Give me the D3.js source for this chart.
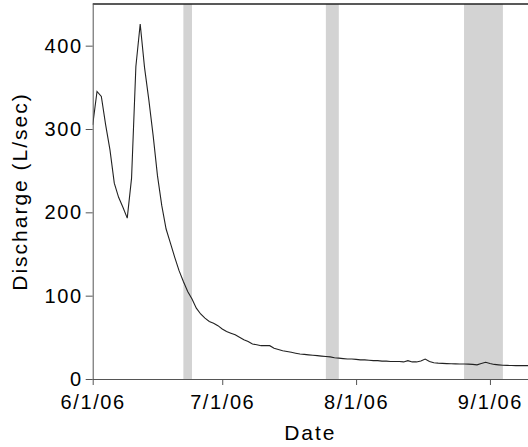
<!DOCTYPE html>
<html>
<head>
<meta charset="utf-8">
<script src="https://cdn.jsdelivr.net/npm/d3@7"></script>
<style>
  html, body { margin: 0; padding: 0; background: #fff; }
  svg { display: block; font-family: "Liberation Sans", Arial, sans-serif; }
</style>
</head>
<body>
<svg id="chart" width="528" height="447"></svg>
<script>
// ---- data ----
const startDate = "2006-06-01";
const discharge = [
  305, 345, 339, 305, 275, 235, 218, 206, 193, 241,
  375, 426, 374, 335, 292, 244, 208, 180, 163, 146,
  130, 117, 105, 96, 85, 78, 73, 69, 67, 64,
  60, 57, 55, 53, 50, 47, 45, 42, 41, 40,
  40, 40, 37, 35.5, 34, 33, 32, 31, 30, 29.5,
  29, 28.5, 28, 27.5, 27, 26.5, 25.5, 25, 24.5, 24,
  24, 23.5, 23, 23, 22.5, 22, 22, 21.5, 21.5, 21,
  21, 21, 20.5, 22, 20.5, 20.5, 21.5, 24, 21, 19.5,
  19, 18.8, 18.5, 18.3, 18.2, 18, 18, 17.8, 17.5, 17,
  18.5, 20, 18.5, 17.5, 17, 16.5, 16.3, 16.2, 16.1, 16,
  16, 16
];
const bandStarts = ["2006-06-22", "2006-07-25", "2006-08-26"];
const bandEnds   = ["2006-06-24", "2006-07-28", "2006-09-04"];
const xTickDates = ["2006-06-01", "2006-07-01", "2006-08-01", "2006-09-01"];
const xTickLabels = ["6/1/06", "7/1/06", "8/1/06", "9/1/06"];
const yTicks = [0, 100, 200, 300, 400];
const xTitle = "Date";
const yTitle = "Discharge (L/sec)";

// ---- setup ----
(function () {
const parse = d3.timeParse("%Y-%m-%d");
const t0 = parse(startDate);
const series = discharge.map((v, i) => ({ date: d3.timeDay.offset(t0, i), value: v }));

const pL = 92.7, pR = 528, pT = 4, pB = 379;
const svg = d3.select("#chart");

const x = d3.scaleTime()
  .domain([t0, parse("2006-09-10")])
  .range([pL, 528.8]);
const y = d3.scaleLinear().domain([0, 450]).range([pB, pT]);

svg.append("defs").append("clipPath").attr("id", "clip")
  .append("rect").attr("x", pL).attr("y", pT)
  .attr("width", pR - pL).attr("height", pB - pT);

const plot = svg.append("g").attr("clip-path", "url(#clip)");

// gray bands
plot.selectAll("rect.band")
  .data(bandStarts.map((s, i) => ({ s: parse(s), e: parse(bandEnds[i]) })))
  .join("rect")
  .attr("class", "band")
  .attr("x", d => x(d.s))
  .attr("width", d => x(d.e) - x(d.s))
  .attr("y", pT)
  .attr("height", pB - pT)
  .attr("fill", "#d3d3d3");

// line
plot.append("path")
  .datum(series)
  .attr("fill", "none")
  .attr("stroke", "#222")
  .attr("stroke-width", 1.1)
  .attr("d", d3.line().x(d => x(d.date)).y(d => y(d.value)));

// top border
svg.append("line")
  .attr("x1", pL).attr("x2", pR)
  .attr("y1", pT).attr("y2", pT)
  .attr("stroke", "#222").attr("stroke-width", 1.5);

// x axis
const xAxis = d3.axisBottom(x)
  .tickValues(xTickDates.map(parse))
  .tickFormat((d, i) => xTickLabels[i])
  .tickSize(6)
  .tickPadding(10)
  .tickSizeOuter(0);
const gx = svg.append("g").attr("transform", `translate(0,${pB})`).call(xAxis);
gx.select(".domain").attr("stroke", "#555").attr("d", `M${pL},0.5H${pR}`);
gx.selectAll(".tick line").attr("stroke", "#555");
gx.selectAll(".tick text")
  .attr("fill", "#000")
  .style("font-size", "20px")
  .style("letter-spacing", "1.6px");

// y axis
const yAxis = d3.axisLeft(y)
  .tickValues(yTicks)
  .tickSize(7)
  .tickPadding(3)
  .tickSizeOuter(0);
const gy = svg.append("g").attr("transform", `translate(${pL},0)`).call(yAxis);
gy.select(".domain").attr("stroke", "#555");
gy.selectAll(".tick line").attr("stroke", "#555");
gy.selectAll(".tick text")
  .attr("fill", "#000")
  .style("font-size", "20px")
  .style("letter-spacing", "1.6px");

// titles
svg.append("text")
  .attr("x", (pL + pR) / 2)
  .attr("y", 440)
  .attr("text-anchor", "middle")
  .style("font-size", "21px")
  .style("letter-spacing", "2px")
  .attr("fill", "#000")
  .text(xTitle);

svg.append("text")
  .attr("transform", `translate(27,${(pT + pB) / 2}) rotate(-90)`)
  .attr("text-anchor", "middle")
  .style("font-size", "21px")
  .style("letter-spacing", "2px")
  .attr("fill", "#000")
  .text(yTitle);
})();
</script>
</body>
</html>
